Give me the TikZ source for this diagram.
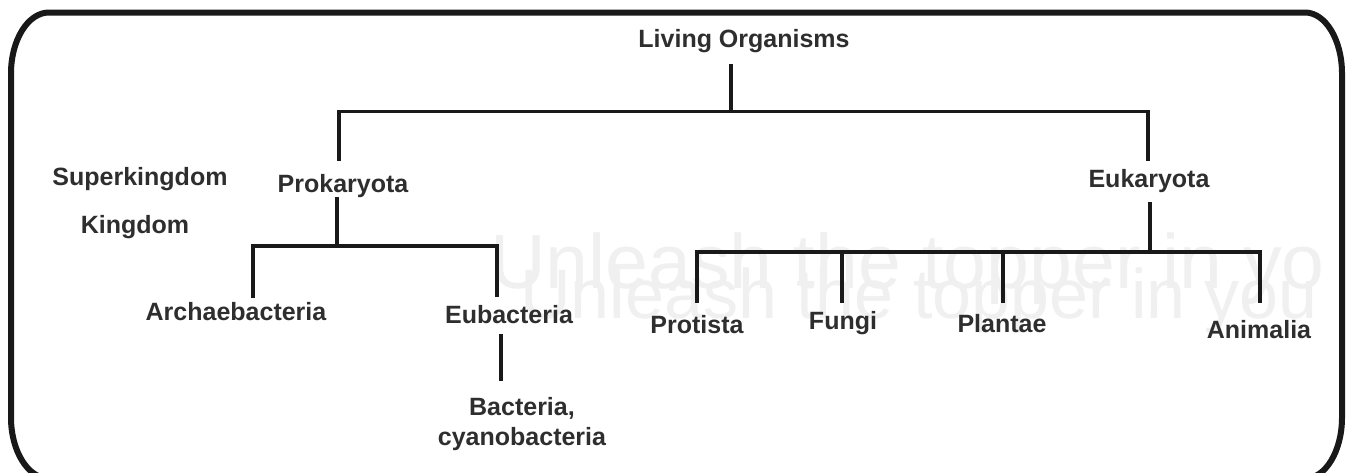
\documentclass[tikz,border=0pt]{standalone}
\usepackage{fontspec}
\setmainfont{Liberation Sans}
\begin{document}
\begin{tikzpicture}[x=1pt,y=-1pt,
  lbl/.style={font=\fontsize{25}{30}\selectfont\bfseries,text=black!82,inner sep=0pt,align=center,anchor=center},
  wm/.style={text=black!6,inner sep=0pt,anchor=base west},
  ln/.style={line width=3.8pt,black!90,line cap=butt,line join=miter},
  frame/.style={line width=6pt,black!90}]
\useasboundingbox (0,0) rectangle (1349,472);
\fill[white] (0,0) rectangle (1349,472);
\node[wm,font=\fontsize{77}{77}\selectfont] (wma) at (490,288) {Unleash the topper in yo};
\node[wm,font=\fontsize{70}{70}\selectfont] (wmb) at (520,318) {Unleash the topper in you};
\draw[frame] (49,478.5) arc[start angle=90,end angle=180,x radius=38,y radius=61] -- (11,73.5) arc[start angle=180,end angle=270,x radius=38,y radius=61] -- (1305,12.5) arc[start angle=270,end angle=360,x radius=37,y radius=61] -- (1342,417.5) arc[start angle=0,end angle=90,x radius=37,y radius=61];
\node[lbl] (root) at (744,41) {Living Organisms};
\node[lbl] (sk) at (140,179) {Superkingdom};
\node[lbl] (k) at (135,227) {Kingdom};
\node[lbl] (pro) at (343,186) {Prokaryota};
\node[lbl] (euk) at (1149,181) {Eukaryota};
\node[lbl] (arc) at (236,312) {Archaebacteria};
\node[lbl] (eub) at (509,315) {Eubacteria};
\node[lbl] (bac) at (522,424) {Bacteria,\\cyanobacteria};
\node[lbl] (prot) at (697,325) {Protista};
\node[lbl] (fun) at (843,323) {Fungi};
\node[lbl] (pla) at (1002,324) {Plantae};
\node[lbl] (ani) at (1259,330) {Animalia};
\coordinate (t) at (731,111.5);
\draw[ln] (731,64) -- (t);
\draw[ln] (339,161) -- (339,111.5) -- (1148,111.5) -- (1148,161);
\draw[ln] (337,197) -- (337,247);
\draw[ln] (253,298) -- (253,246) -- (497,246) -- (497,297);
\draw[ln] (501,334) -- (501,381);
\draw[ln] (1150,202) -- (1150,252);
\draw[ln] (697,303) -- (697,252) -- (1260,252) -- (1260,303);
\draw[ln] (842,252) -- (842,303);
\draw[ln] (1003,252) -- (1003,303);
\end{tikzpicture}
\end{document}
